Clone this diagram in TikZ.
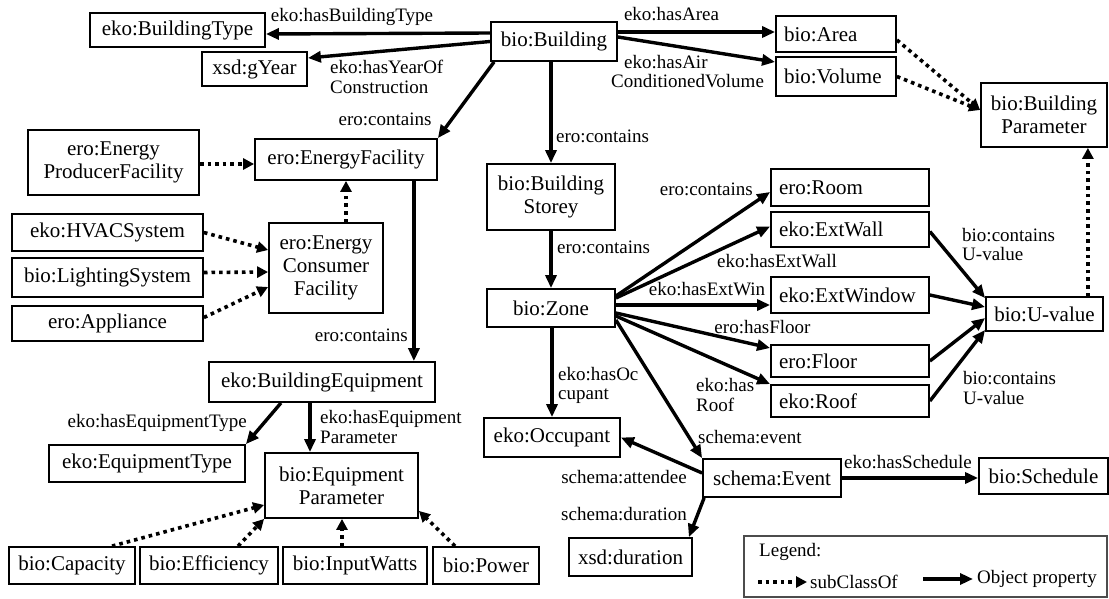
\documentclass[tikz,border=0pt]{standalone}
\usepackage{fontspec}
\setmainfont{Liberation Serif}
\usetikzlibrary{arrows.meta,calc}
\newcommand\nodefnt{\fontsize{21}{23}\selectfont}
\newcommand\lblfnt{\fontsize{19}{19.5}\selectfont}
\begin{document}
\begin{tikzpicture}[x=1pt,y=-1pt,
  box/.style={draw, line width=1.8pt, inner sep=0pt, font=\nodefnt, align=center},
  lbox/.style={draw, line width=1.8pt, inner ysep=0pt, inner xsep=8pt, font=\nodefnt, align=left, text width=#1},
  lbl/.style={inner sep=0pt, font=\lblfnt},
  rel/.style={line width=3.4pt, -{Triangle[length=13pt,width=11pt]}},
  sub/.style={line width=3.6pt, dash pattern=on 3.6pt off 4pt, -{Triangle[length=11pt,width=11pt]}}]
\useasboundingbox (0,0) rectangle (1109,599);
% nodes
\node[box, minimum width=175, minimum height=34] (BT) at (177.5,30) {eko:BuildingType};
\node[box, minimum width=105, minimum height=34] (GY) at (254.5,69) {xsd:gYear};
\node[box, minimum width=126, minimum height=39] (B) at (554,41.5) {bio:Building};
\node[lbox=104, minimum height=36] (AR) at (836,34) {bio:Area};
\node[lbox=104, minimum height=39] (VO) at (836,76.5) {bio:Volume};
\node[box, minimum width=126, minimum height=64] (BP) at (1044,115) {bio:Building\\Parameter};
\node[box, minimum width=182, minimum height=41] (EF) at (346,159.5) {ero:EnergyFacility};
\node[box, minimum width=171, minimum height=65] (PF) at (113.5,162.5) {ero:Energy\\ProducerFacility};
\node[box, minimum width=191, minimum height=37] (HV) at (107.5,232.5) {eko:HVACSystem};
\node[box, minimum width=191, minimum height=39] (LS) at (107.5,277.5) {bio:LightingSystem};
\node[box, minimum width=191, minimum height=35] (AP) at (107.5,323.5) {ero:Appliance};
\node[box, minimum width=114, minimum height=90] (CF) at (326,268) {ero:Energy\\Consumer\\Facility};
\node[box, minimum width=226, minimum height=40] (BE) at (322,382) {eko:BuildingEquipment};
\node[box, minimum width=196, minimum height=37] (ET) at (147,463.5) {eko:EquipmentType};
\node[box, minimum width=153, minimum height=65] (EP) at (341.5,485.5) {bio:Equipment\\Parameter};
\node[box, minimum width=126, minimum height=37] (CA) at (72,565.5) {bio:Capacity};
\node[box, minimum width=138, minimum height=37] (EI) at (209,565.5) {bio:Efficiency};
\node[box, minimum width=144, minimum height=37] (IW) at (355,565.5) {bio:InputWatts};
\node[box, minimum width=106, minimum height=37] (PW) at (486,565.5) {bio:Power};
\node[box, minimum width=128, minimum height=66] (ST) at (551,197) {bio:Building\\Storey};
\node[box, minimum width=128, minimum height=38] (ZO) at (551,308) {bio:Zone};
\node[box, minimum width=136, minimum height=39] (OC) at (552,437.5) {eko:Occupant};
\node[lbox=142, minimum height=37] (RO) at (850,187.5) {ero:Room};
\node[lbox=142, minimum height=35] (EW) at (850,229.5) {eko:ExtWall};
\node[lbox=142, minimum height=36] (WI) at (850,295) {eko:ExtWindow};
\node[lbox=142, minimum height=32] (FL) at (850,361) {ero:Floor};
\node[lbox=142, minimum height=32] (RF) at (850,401) {eko:Roof};
\node[box, minimum width=117, minimum height=34] (UV) at (1044.5,314) {bio:U-value};
\node[box, minimum width=138, minimum height=38] (EV) at (772,478) {schema:Event};
\node[box, minimum width=129, minimum height=36] (SC) at (1043.5,476) {bio:Schedule};
\node[box, minimum width=123, minimum height=38] (DU) at (630.5,557) {xsd:duration};
% solid relations
\draw[rel] ($(B.west)+(0,-8.5)$) -- ($(BT.east)+(0,4)$);
\draw[rel] (B.west) -- ($(GY.east)+(0,-11)$);
\draw[rel] ($(B.south west)+(4,0)$) -- (EF.north east);
\draw[rel] (ST.north|-B.south) -- (ST.north);
\draw[rel] ($(B.east)+(0,-9.5)$) -- ($(AR.west)+(0,-2)$);
\draw[rel] ($(B.east)+(0,-4.5)$) -- ($(VO.west)+(0,-14.5)$);
\draw[rel] (ST.south) -- (ZO.north);
\draw[rel] (OC.north|-ZO.south) -- (OC.north);
\draw[rel] ($(ZO.east)+(0,-12)$) -- ($(RO.west)+(0,4.5)$);
\draw[rel] ($(ZO.east)+(0,-10)$) -- ($(EW.west)+(0,-3)$);
\draw[rel] ($(ZO.east)+(0,-3)$) -- ($(WI.west)+(0,10)$);
\draw[rel] ($(ZO.east)+(0,5)$) -- ($(FL.west)+(0,-13)$);
\draw[rel] ($(ZO.east)+(0,8)$) -- (RF.north west);
\draw[rel] ($(ZO.east)+(0,12)$) -- (EV.north west);
\draw[rel] ($(EV.west)+(0,-5)$) -- (OC.east);
\draw[rel] (EV.east) -- (SC.west|-EV.east);
\draw[rel] ($(EV.south west)+(2,0)$) -- ($(DU.north east)+(-4,0)$);
\coordinate (efout) at ($(EF.south east)+(-24,0)$);
\draw[rel] (efout) -- (efout|-BE.north);
\draw[rel] ($(BE.south)+(-41,0)$) -- (ET.north east);
\coordinate (beout) at ($(BE.south)+(-12,0)$);
\draw[rel] (beout) -- (beout|-EP.north);
\draw[rel] ($(EW.east)+(0,2)$) -- ($(UV.north west)+(0,2)$);
\draw[rel] (WI.east) -- ($(UV.west)+(0,-7)$);
\draw[rel] (FL.east) -- ($(UV.west)+(0,4)$);
\draw[rel] (RF.east) -- ($(UV.south west)+(0,-2)$);
% subclass relations
\draw[sub] ($(AR.east)+(0,6)$) -- ($(BP.west)+(0,-5)$);
\draw[sub] (VO.east) -- ($(BP.west)+(0,-5)$);
\coordinate (uvout) at ($(UV.north east)+(-16,0)$);
\draw[sub] (uvout) -- (uvout|-BP.south);
\draw[sub] ($(PF.east)+(0,1.5)$) -- ($(EF.west)+(0,4.5)$);
\draw[sub] (CF.north-|EF.south) -- (EF.south);
\draw[sub] (HV.east) -- ($(CF.west)+(0,-18)$);
\draw[sub] ($(LS.east)+(0,-5)$) -- ($(CF.west)+(0,4)$);
\draw[sub] ($(AP.east)+(0,-6)$) -- ($(CF.west)+(0,19)$);
\draw[sub] ($(CA.north)+(40,0)$) -- ($(EP.west)+(0,19.5)$);
\draw[sub] ($(EI.north)+(29,0)$) -- (EP.south west);
\coordinate (iwout) at ($(IW.north)+(-13,0)$);
\draw[sub] (iwout) -- (iwout|-EP.south);
\draw[sub] ($(PW.north)+(-31,0)$) -- ($(EP.south east)+(0,-8)$);
% labels
\node[lbl] (l1) at (352,17) {eko:hasBuildingType};
\node[lbl, anchor=west, align=left] (l2) at (330,77) {eko:hasYearOf\\Construction};
\node[lbl] (l3) at (385,119) {ero:contains};
\node[lbl] (l4) at (671.5,14) {eko:hasArea};
\node[lbl, anchor=north west, align=left] (l5a) at (624,55) {eko:hasAir};
\node[lbl, anchor=north west, align=left] (l5) at (611,74) {ConditionedVolume};
\node[lbl, anchor=west] (l6) at (556,136) {ero:contains};
\node[lbl, anchor=east] (l7) at (753,189) {ero:contains};
\node[lbl, anchor=west] (l8) at (557,247) {ero:contains};
\node[lbl] (l9) at (777,261) {eko:hasExtWall};
\node[lbl] (l10) at (707,289) {eko:hasExtWin};
\node[lbl] (l11) at (762.5,327) {ero:hasFloor};
\node[lbl, anchor=west, align=left] (l12) at (696,395) {eko:has\\Roof};
\node[lbl, anchor=west, align=left] (l13) at (558,385.5) {eko:hasOc\\cupant};
\node[lbl, anchor=west, align=left] (l14) at (962,244.5) {bio:contains\\U-value};
\node[lbl, anchor=west, align=left] (l15) at (963,388) {bio:contains\\U-value};
\node[lbl, anchor=west] (l16) at (698,437) {schema:event};
\node[lbl, anchor=east] (l17) at (687,477) {schema:attendee};
\node[lbl, anchor=east] (l18) at (687,514) {schema:duration};
\node[lbl] (l19) at (908,462) {eko:hasSchedule};
\node[lbl, anchor=east] (l20) at (247,423) {eko:hasEquipmentType};
\node[lbl, anchor=west, align=left] (l21) at (320,427) {eko:hasEquipment\\Parameter};
\node[lbl, anchor=east] (l22) at (408,335) {ero:contains};
% legend
\node[draw=black!70, line width=1.2pt, minimum width=363, minimum height=61, inner sep=0pt] (LG) at (925.5,566.5) {};
\node[lbl, anchor=west] (lg1) at (759,552) {Legend:};
\coordinate (ld1) at (758,582);
\coordinate (ld2) at (807,582);
\draw[sub] (ld1) -- (ld2);
\node[lbl, anchor=west] (lg2) at (810,582) {subClassOf};
\coordinate (lo1) at (923,579);
\coordinate (lo2) at (973,579);
\draw[rel] (lo1) -- (lo2);
\node[lbl, anchor=west] (lg3) at (977,579) {Object property};
\end{tikzpicture}
\end{document}
